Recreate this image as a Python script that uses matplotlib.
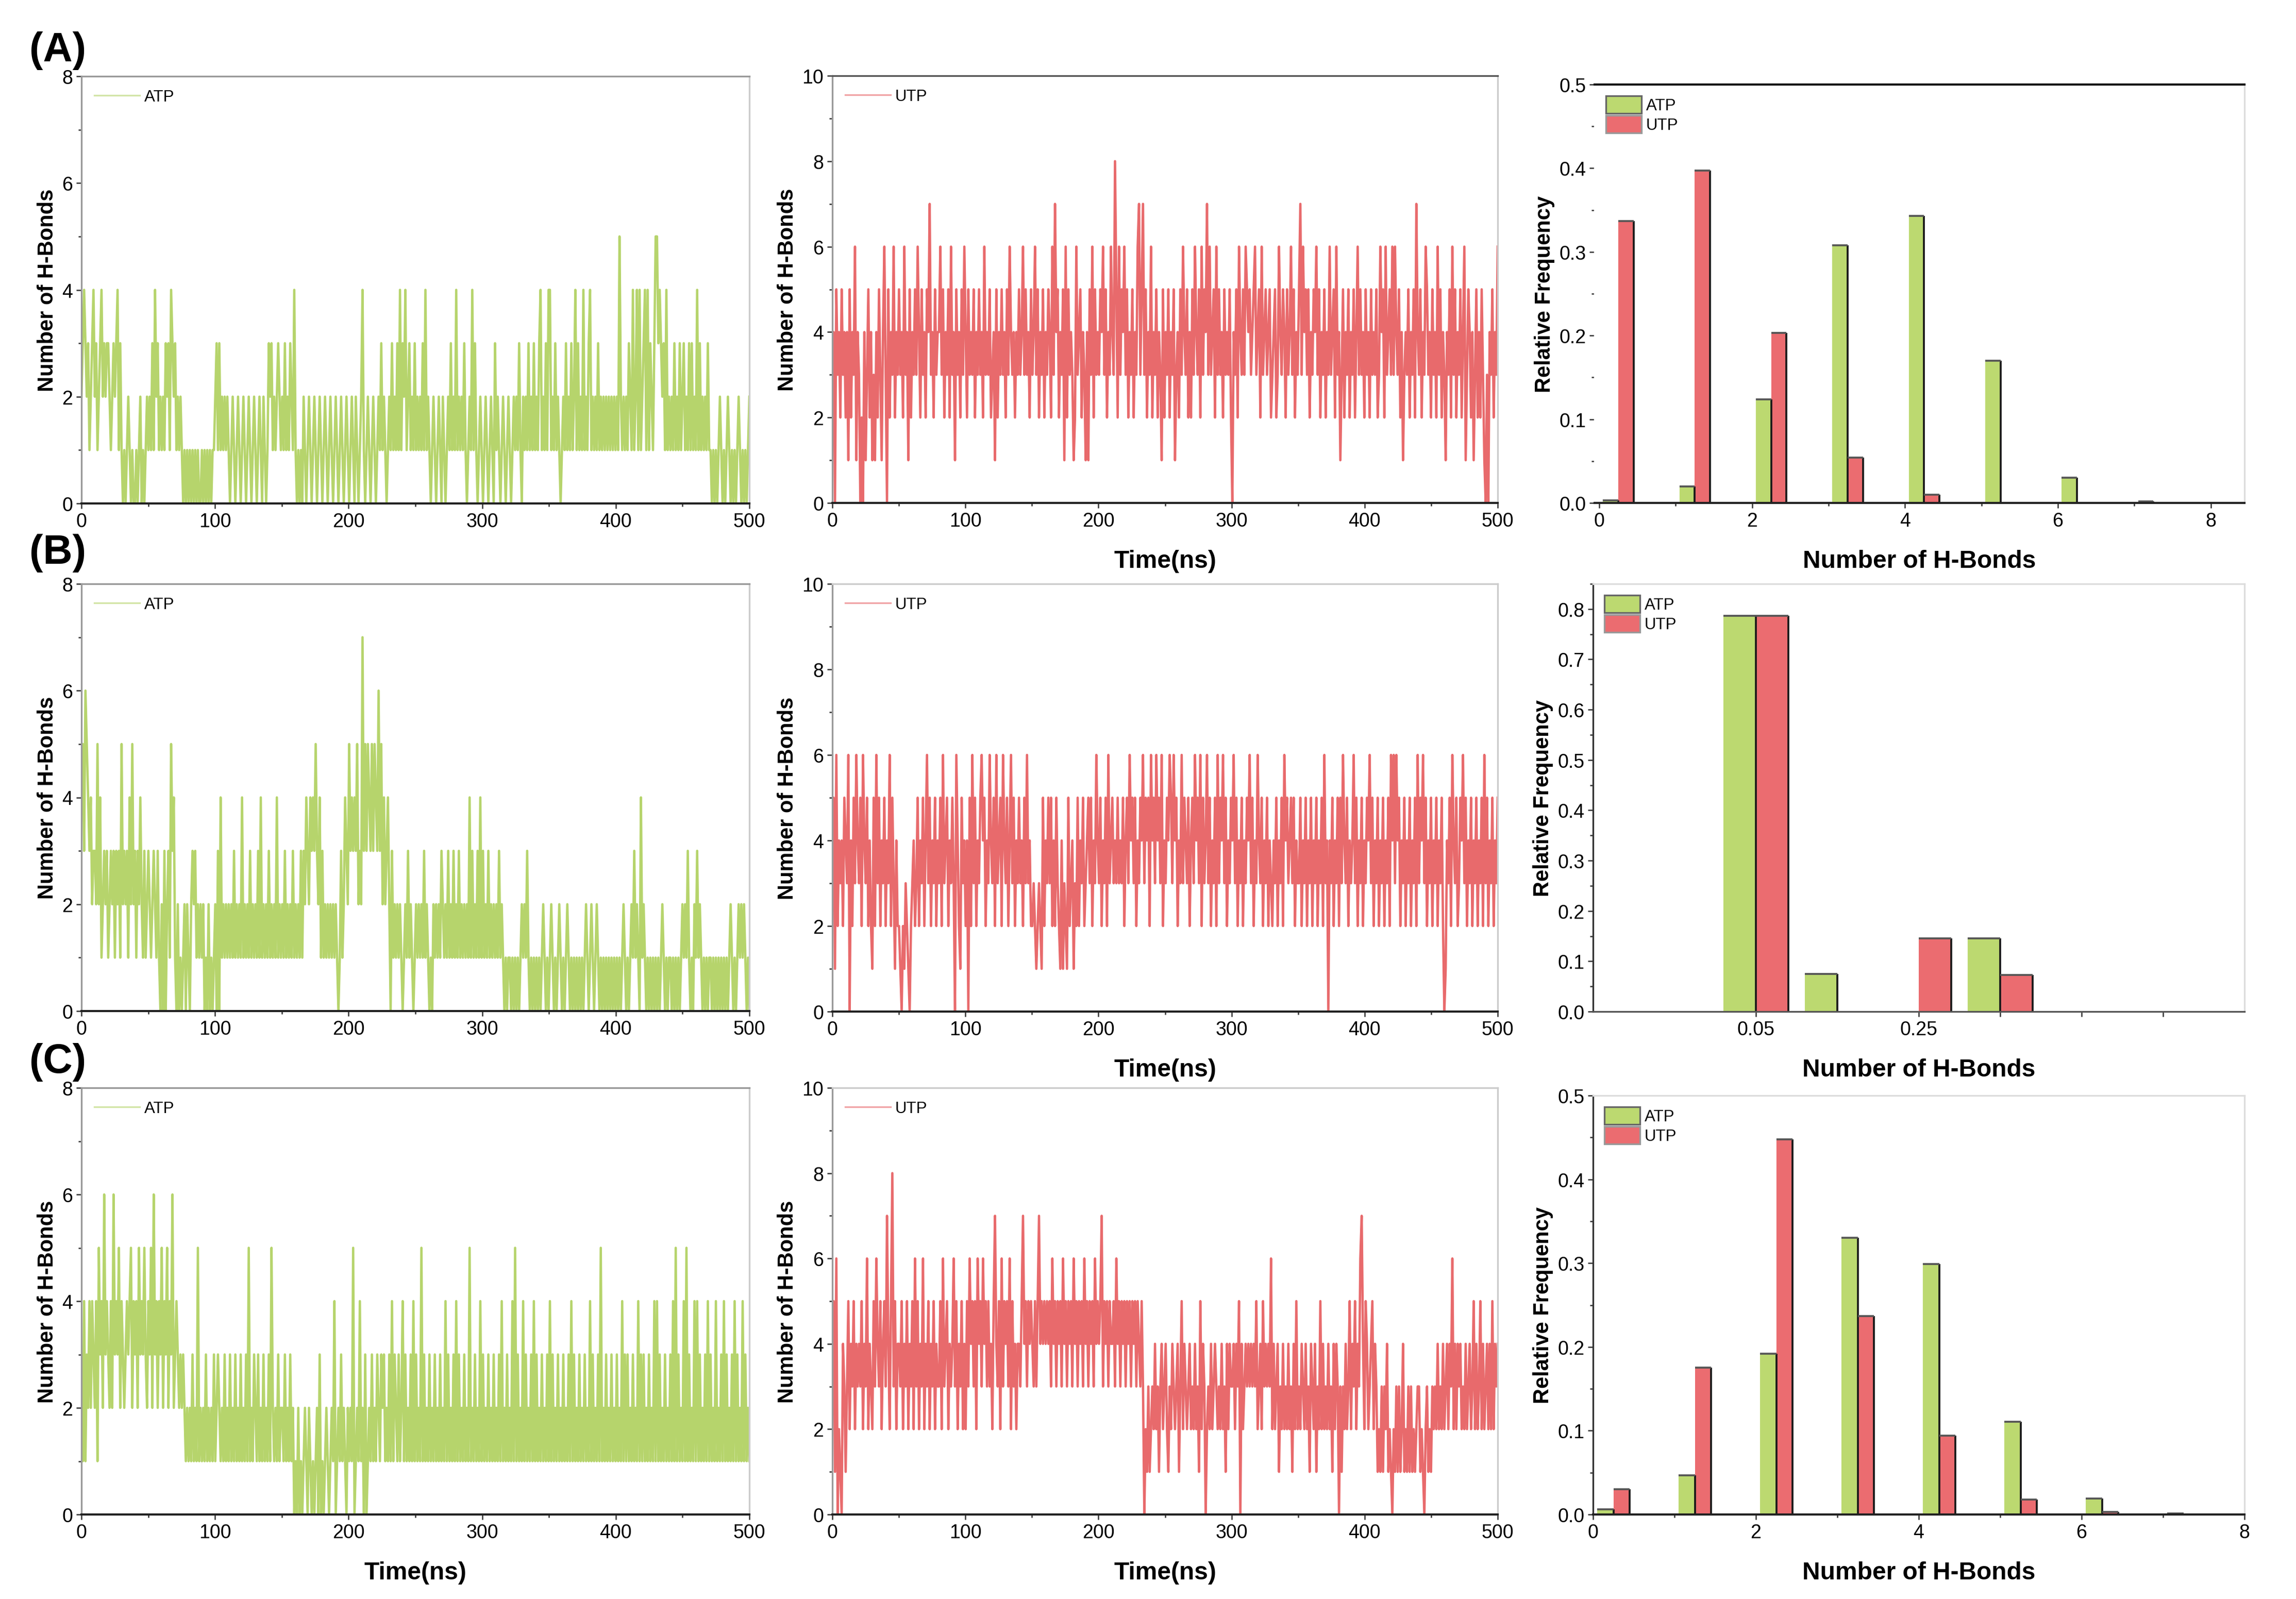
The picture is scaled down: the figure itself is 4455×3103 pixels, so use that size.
import numpy as np
import matplotlib
matplotlib.use('Agg')
import matplotlib.pyplot as plt
from matplotlib.ticker import MultipleLocator, FixedLocator
from matplotlib.patches import Patch

# H-bond counts, one value per ns (0..500 ns)
a_atp = ("2343231234" "2312342323" "3212323413" "1010121010" "0101201012"
         "1213142312" "1213231432" "3121210101" "0101010100" "1010101011"
         "2313121212" "1012101210" "1210121012" "1012102101" "3231212321"
         "2131213214" "1010102101" "2101210121" "0121012101" "2101210121"
         "0121021012" "4101210121" "0121312101" "2131213141" "3241231213"
         "1212131412" "1012101210" "2101213121" "4121213101" "2141310121"
         "0121012103" "1210121012" "1012121310" "2121312131" "2134121314"
         "4121312101" "2131213124" "1312141213" "4121213121" "2121212121"
         "2152121213" "2141241412" "3414132135" "5343231412" "1213121312"
         "3121313121" "4131212131" "1010101210" "1012101010" "1210101012")

a_utp = ("3405342534" "2415243614" "3020413524" "1314253146" "3052436243"
         "5342634152" "4353642534" "2547342534" "4635243526" "3415342536"
         "4253435243" "5342634352" "3415243534" "2536434243" "5346353425"
         "3463524352" "4354263745" "2435162534" "3126345243" "1415362534"
         "3546352436" "4385263546" "3524352436" "7357352436" "2435243152"
         "4352435134" "2536435242" "5364352635" "4736345263" "5342534352"
         "0435264353" "6545345634" "5263453452" "3452364354" "2534635243"
         "5736453524" "3546352435" "2436345263" "4135243524" "3524635342"
         "5342534352" "3645263453" "6364352413" "4352435274" "3524365342"
         "5342635243" "1435263524" "3524613542" "4135242531" "0304352436")

b_atp = ("4536543423" "3252412323" "1232313231" "5232314252" "3132421312"
         "3212321310" "2030231534" "1020101202" "1023231212" "1201020101"
         "2030412121" "2121312121" "4121213121" "2131412121" "3121214121"
         "2131212131" "2121313243" "2434353241" "3121212121" "2101312432"
         "5343435232" "7353543535" "4363524234" "2031212121" "0121312101"
         "2121213121" "0102121213" "2121312131" "2131212121" "4131213141"
         "3121312121" "2131210101" "1010101012" "1213101010" "1010121010"
         "1210101210" "1012101010" "1010101210" "1210121010" "1010101010"
         "1010121010" "1213121041" "2101010101" "0101210101" "1010101012"
         "1213101021" "3121010101" "1010101010" "1010121010" "1212121010")

b_utp = ("3516243425" "4360425364" "3526435242" "1526352435" "2436253142"
         "2102132102" "3423524352" "4635243524" "3526345243" "5306421534"
         "2405263524" "3564524364" "3526345264" "3524635243" "5342536342"
         "2321232152" "4353524253" "2141321523" "4132524352" "3453524364"
         "3524352634" "5343534352" "4536453524" "3546354526" "4536453624"
         "3546536452" "4363543524" "5364536253" "4635243526" "3546352435"
         "4635243524" "3546352436" "4352435243" "2435243526" "4534535243"
         "3524352435" "2435243526" "3404352435" "2536435243" "4635243524"
         "3546352435" "2435243526" "4636452435" "2435243526" "3546352435"
         "2435243520" "1435264352" "3546352435" "2435243526" "3524352435")

c_atp = ("3141324243" "2415342634" "3242634352" "4323434524" "3425343532"
         "4352634243" "5243524362" "3432323212" "1213121512" "1213121213"
         "1232121312" "1312131213" "1213151213" "2131213121" "3152121312"
         "2131213120" "1020101210" "2101012030" "1012101214" "0121312102"
         "1215012141" "2030121312" "1321323121" "3141321312" "4131213141"
         "3121513121" "3121312131" "2141312131" "4131213121" "5121312141"
         "3121312131" "2131412131" "2141513121" "4131213141" "3121312131"
         "4131213121" "3121314131" "2131213121" "4131213151" "2131213121"
         "3121413131" "2131214131" "3121312141" "4131213121" "3141513121"
         "4151312141" "4131213141" "3121412131" "4131213141" "3121413121")

c_utp = ("3516021043" "1352435243" "4352436243" "2536435245" "3742583524"
         "4352435243" "5263524362" "4352435243" "3526345243" "4635243524"
         "2536453526" "4536453534" "2574352635" "4536253424" "4357453545"
         "4353574545" "4545364535" "4536453545" "3645354536" "4535453645"
         "4573545354" "4536453545" "3545354535" "4353021312" "3242313423"
         "4213243234" "1352432342" "3242315243" "0232423432" "3242314243"
         "3424350423" "4343434352" "3425343436" "2423413242" "3242314252"
         "3243242314" "3241325242" "3242314243" "0313242352" "4352436742"
         "5423452431" "2131324121" "0213131241" "2131312123" "3121023121"
         "3232423242" "3424362424" "3423242342" "3524235242" "3424252434")

# relative frequency of the number of H-bonds
nbonds = [0, 1, 2, 3, 4, 5, 6, 7]
a_hist_atp = [0.003, 0.020, 0.124, 0.308, 0.343, 0.170, 0.030, 0.002]
a_hist_utp = [0.337, 0.397, 0.203, 0.054, 0.010, 0.0, 0.0, 0.0]
c_hist_atp = [0.006, 0.047, 0.192, 0.330, 0.299, 0.111, 0.019, 0.001]
c_hist_utp = [0.030, 0.175, 0.448, 0.237, 0.094, 0.018, 0.003, 0.0]

# panel (B) histogram uses its own bins
b_bins_atp = [0.03, 0.13, 0.33]
b_hist_atp = [0.787, 0.075, 0.145]
b_bins_utp = [0.07, 0.27, 0.37]
b_hist_utp = [0.787, 0.145, 0.073]

atp_color = '#b6d46c'
utp_color = '#e86a6c'
atp_bar = '#bcd970'
utp_bar = '#eb6c70'

narrow = ['Liberation Sans Narrow', 'Liberation Sans', 'DejaVu Sans']
wide = ['Liberation Sans', 'DejaVu Sans']
plt.rcParams['font.family'] = narrow
plt.rcParams['font.size'] = 9

W, H = 4455, 3104
fig = plt.figure(figsize=(W / 300, H / 300), dpi=300)


def rect(x0, x1, y0, y1):
    return [x0 / W, 1 - y1 / H, (x1 - x0) / W, (y1 - y0) / H]


def style_spines(ax, left='#999999', top='#999999', right='#cccccc', bottom='#222222'):
    for side, c in zip(['left', 'top', 'right', 'bottom'], [left, top, right, bottom]):
        ax.spines[side].set_color(c)
        ax.spines[side].set_linewidth(1.0 if c in ('#222222', '#111111') else 0.8)
    ax.tick_params(which='both', direction='out', width=0.6, colors='#333333',
                   labelcolor='black', labelsize=9, pad=1.5)
    ax.tick_params(which='major', length=2.5)
    ax.tick_params(which='minor', length=1.5)


def ts_panel(ax, digits, color, label, ymax, xlabel=False, top='#999999'):
    vals = [int(d) for d in digits]
    t = np.linspace(0, 500, len(vals))
    ax.plot(t, vals, color=color, lw=1.1, label=label)
    ax.set_xlim(0, 500)
    ax.set_ylim(0, ymax)
    ax.xaxis.set_major_locator(MultipleLocator(100))
    ax.xaxis.set_minor_locator(MultipleLocator(50))
    ax.yaxis.set_major_locator(MultipleLocator(2))
    ax.yaxis.set_minor_locator(MultipleLocator(1))
    style_spines(ax, top=top)
    ax.set_ylabel('Number of H-Bonds', family=wide, weight='bold', fontsize=10, labelpad=2)
    if xlabel:
        ax.set_xlabel('Time(ns)', weight='bold', fontsize=11.5, labelpad=9)
    leg = ax.legend(loc='upper left', frameon=False, fontsize=7.5, handlelength=2.8,
                    borderaxespad=0.4, handletextpad=0.3)
    for h in leg.get_lines():
        h.set_alpha(0.6)
        h.set_linewidth(0.8)


def bars(ax, x, h, w, color):
    ax.bar(x, h, width=w, color=color, edgecolor='none')
    x = np.asarray(x, dtype=float)
    h = np.asarray(h, dtype=float)
    keep = h > 0.0005
    ax.vlines(x[keep] + w / 2, 0, h[keep], color='#1a1a1a', lw=0.9)
    ax.hlines(h[keep], x[keep] - w / 2, x[keep] + w / 2, color='#555555', lw=0.9)


def hist_legend(ax):
    handles = [Patch(facecolor=atp_bar, edgecolor='#666666', lw=0.8, label='ATP'),
               Patch(facecolor=utp_bar, edgecolor='#999999', lw=0.8, label='UTP')]
    ax.legend(handles=handles, loc='upper left', frameon=False, fontsize=7.5,
              handlelength=2.2, handleheight=1.3, borderaxespad=0.3,
              handletextpad=0.3, labelspacing=0.1)


def hist_panel(ax, atp, utp, xlim, ylim, top='#dddddd', left='#333333'):
    x = np.asarray(nbonds, dtype=float)
    bars(ax, x + 0.15, atp, 0.2, atp_bar)
    bars(ax, x + 0.35, utp, 0.2, utp_bar)
    ax.set_xlim(*xlim)
    ax.set_ylim(*ylim)
    ax.xaxis.set_major_locator(MultipleLocator(2))
    ax.xaxis.set_minor_locator(MultipleLocator(1))
    ax.yaxis.set_major_locator(MultipleLocator(0.1))
    ax.yaxis.set_minor_locator(MultipleLocator(0.05))
    ax.yaxis.set_major_formatter(matplotlib.ticker.FormatStrFormatter('%.1f'))
    style_spines(ax, left=left, top=top, right='#dddddd', bottom='#222222')
    ax.set_ylabel('Relative Frequency', family=wide, weight='bold', fontsize=10, labelpad=2)
    ax.set_xlabel('Number of H-Bonds', weight='bold', fontsize=11.5, labelpad=9)
    hist_legend(ax)


# row A
ax = fig.add_axes(rect(158, 1454, 149, 978))
ts_panel(ax, a_atp, atp_color, 'ATP', 8)
ax = fig.add_axes(rect(1615, 2906, 148, 977))
ts_panel(ax, a_utp, utp_color, 'UTP', 10, xlabel=True, top='#555555')
ax = fig.add_axes(rect(3094, 4355, 165, 977))
hist_panel(ax, a_hist_atp, a_hist_utp, (-0.06, 8.44), (0, 0.5), top='#111111', left='#ffffff')

# row B
ax = fig.add_axes(rect(158, 1454, 1134, 1963))
ts_panel(ax, b_atp, atp_color, 'ATP', 8)
ax = fig.add_axes(rect(1615, 2906, 1134, 1964))
ts_panel(ax, b_utp, utp_color, 'UTP', 10, xlabel=True, top='#cccccc')
ax = fig.add_axes(rect(3091, 4355, 1134, 1964))
bars(ax, b_bins_atp, b_hist_atp, 0.04, atp_bar)
bars(ax, b_bins_utp, b_hist_utp, 0.04, utp_bar)
ax.set_xlim(-0.15, 0.65)
ax.set_ylim(0, 0.85)
ax.xaxis.set_major_locator(FixedLocator([0.05, 0.25, 0.35, 0.45, 0.55]))
ax.set_xticklabels(['0.05', '0.25', '', '', ''])
ax.yaxis.set_major_locator(MultipleLocator(0.1))
ax.yaxis.set_minor_locator(MultipleLocator(0.05))
ax.yaxis.set_major_formatter(matplotlib.ticker.FormatStrFormatter('%.1f'))
style_spines(ax, left='#333333', top='#dddddd', right='#dddddd', bottom='#555555')
ax.set_ylabel('Relative Frequency', family=wide, weight='bold', fontsize=10, labelpad=2)
ax.set_xlabel('Number of H-Bonds', weight='bold', fontsize=11.5, labelpad=9)
hist_legend(ax)

# row C
ax = fig.add_axes(rect(158, 1454, 2112, 2940))
ts_panel(ax, c_atp, atp_color, 'ATP', 8, xlabel=True)
ax = fig.add_axes(rect(1615, 2906, 2112, 2940))
ts_panel(ax, c_utp, utp_color, 'UTP', 10, xlabel=True, top='#cccccc')
ax = fig.add_axes(rect(3091, 4355, 2127, 2940))
hist_panel(ax, c_hist_atp, c_hist_utp, (0, 8.0), (0, 0.5))

# panel letters
for lab, y in [('(A)', 98), ('(B)', 1074), ('(C)', 2062)]:
    fig.text(112 / W, 1 - y / H, lab, family=wide, weight='bold', fontsize=19,
             ha='center', va='center')

fig.savefig('out.png', dpi=300)
